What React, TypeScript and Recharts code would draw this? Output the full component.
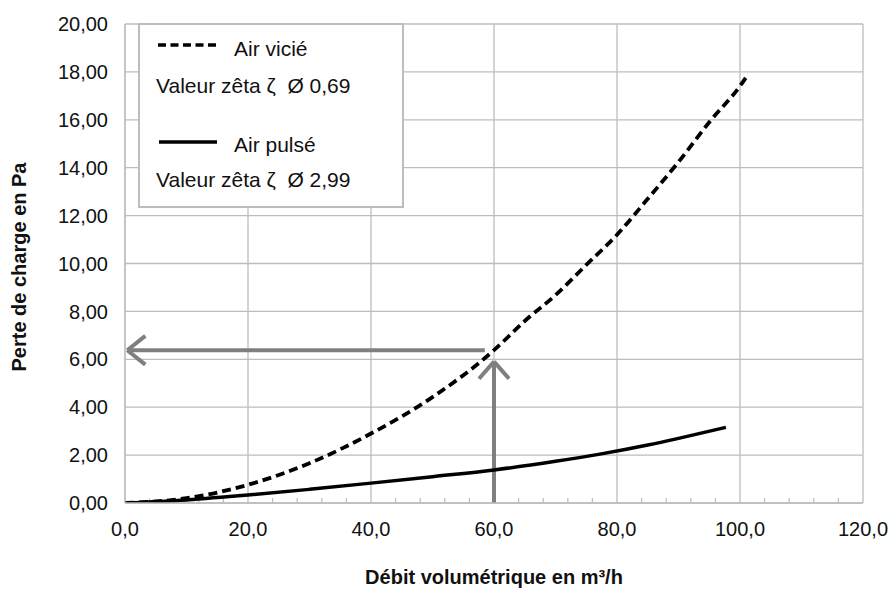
import React from 'react';
import { LineChart, Line, XAxis, YAxis, CartesianGrid, ReferenceLine } from 'recharts';

// axis ticks
const xTicks = [0, 20, 40, 60, 80, 100, 120];
const yTicks = [0, 2, 4, 6, 8, 10, 12, 14, 16, 18, 20];
const minorXTicks = [4, 8, 12, 16, 24, 28, 32, 36, 44, 48, 52, 56, 64, 68, 72, 76, 84, 88, 92, 96, 104, 108, 112, 116];

// Air vicié (dashed)
const vicieX = [0, 10, 20, 30, 40, 50, 60, 65, 70, 75, 80, 85, 90, 95, 100, 101.4];
const vicieY = [0, 0.2, 0.76, 1.66, 2.9, 4.42, 6.38, 7.6, 8.68, 9.94, 11.2, 12.7, 14.24, 15.9, 17.41, 17.93];

// Air pulsé (solid)
const pulseX = [0, 10, 20, 30, 40, 50, 60, 70, 77, 85, 90, 97.7];
const pulseY = [0, 0.13, 0.33, 0.57, 0.83, 1.1, 1.38, 1.74, 2.03, 2.42, 2.7, 3.16];

// reading arrows: [x1, y1, x2, y2]
const arrowSegments: [number, number, number, number][] = [
  [60, 0, 60, 5.9],
  [57.56, 5.19, 60, 5.9],
  [62.44, 5.19, 60, 5.9],
  [58.5, 6.38, 0.37, 6.38],
  [3.3, 6.98, 0.37, 6.38],
  [3.3, 5.78, 0.37, 6.38],
];

const vicieData = vicieX.map((x, i) => ({ x, y: vicieY[i] }));
const pulseData = pulseX.map((x, i) => ({ x, y: pulseY[i] }));

const fmt = (v: number, d: number) => v.toFixed(d).replace('.', ',');
const FONT = '"Liberation Sans", Arial, Helvetica, sans-serif';
const GRID = '#bdbdbd';

export default function App() {
  return (
    <div style={{ position: 'absolute', left: 0, top: 0, width: 892, height: 593, background: '#fff', fontFamily: FONT }}>
      <LineChart width={892} height={593} margin={{ top: 24, right: 29, bottom: 0, left: 0 }}>
        <CartesianGrid stroke={GRID} strokeWidth={1.3} />
        <XAxis
          type="number"
          dataKey="x"
          domain={[0, 120]}
          ticks={xTicks}
          interval={0}
          height={90}
          tickFormatter={(v) => fmt(v, 1)}
          tickLine={false}
          tickSize={0}
          tickMargin={19}
          axisLine={{ stroke: GRID, strokeWidth: 1.3 }}
          tick={{ fill: '#111', fontSize: 20, fontFamily: FONT }}
          allowDataOverflow
        />
        <YAxis
          type="number"
          dataKey="y"
          domain={[0, 20]}
          ticks={yTicks}
          interval={0}
          width={125}
          tickFormatter={(v) => fmt(v, 2)}
          tickLine={false}
          tickSize={0}
          tickMargin={17}
          axisLine={{ stroke: GRID, strokeWidth: 1.3 }}
          tick={{ fill: '#111', fontSize: 20, fontFamily: FONT }}
          allowDataOverflow
        />
        {minorXTicks.map((t) => (
          <ReferenceLine
            key={'m' + t}
            segment={[{ x: t, y: 0 }, { x: t, y: 0.2 }]}
            stroke={GRID}
            strokeWidth={1.3}
            ifOverflow="visible"
          />
        ))}
        {arrowSegments.map((s, i) => (
          <ReferenceLine
            key={'a' + i}
            segment={[{ x: s[0], y: s[1] }, { x: s[2], y: s[3] }]}
            stroke="#7f7f7f"
            strokeWidth={4}
            ifOverflow="visible"
          />
        ))}
        <Line
          data={pulseData}
          dataKey="y"
          type="monotone"
          stroke="#000"
          strokeWidth={3.5}
          dot={false}
          activeDot={false}
          isAnimationActive={false}
        />
        <Line
          data={vicieData}
          dataKey="y"
          type="monotone"
          stroke="#000"
          strokeWidth={3.8}
          strokeDasharray="9 5"
          dot={false}
          activeDot={false}
          isAnimationActive={false}
        />
      </LineChart>

      {/* legend box */}
      <svg
        width={266}
        height={185}
        style={{ position: 'absolute', left: 138, top: 23, overflow: 'visible' }}
      >
        <rect x={1} y={1} width={264} height={183} fill="#fff" stroke={GRID} strokeWidth={2} />
        <line x1={20} y1={22} x2={80} y2={22} stroke="#000" strokeWidth={3.5} strokeDasharray="8 4.5" />
        <text x={96} y={33} fontSize={21} fontFamily={FONT} fill="#111">Air vicié</text>
        <text x={18} y={70} fontSize={21} fontFamily={FONT} fill="#111">{'Valeur zêta ζ\u00A0\u00A0Ø 0,69'}</text>
        <line x1={21} y1={119} x2={79} y2={119} stroke="#000" strokeWidth={3.5} />
        <text x={96} y={129} fontSize={21} fontFamily={FONT} fill="#111">Air pulsé</text>
        <text x={18} y={164} fontSize={21} fontFamily={FONT} fill="#111">{'Valeur zêta ζ\u00A0\u00A0Ø 2,99'}</text>
      </svg>

      {/* axis titles */}
      <div
        style={{
          position: 'absolute',
          left: 494,
          top: 577,
          transform: 'translate(-50%, -50%)',
          whiteSpace: 'nowrap',
          fontSize: 20,
          fontWeight: 'bold',
          color: '#111',
        }}
      >
        Débit volumétrique en m³/h
      </div>
      <div
        style={{
          position: 'absolute',
          left: 19,
          top: 267,
          transform: 'translate(-50%, -50%) rotate(-90deg)',
          whiteSpace: 'nowrap',
          fontSize: 20,
          fontWeight: 'bold',
          color: '#111',
        }}
      >
        Perte de charge en Pa
      </div>
    </div>
  );
}
